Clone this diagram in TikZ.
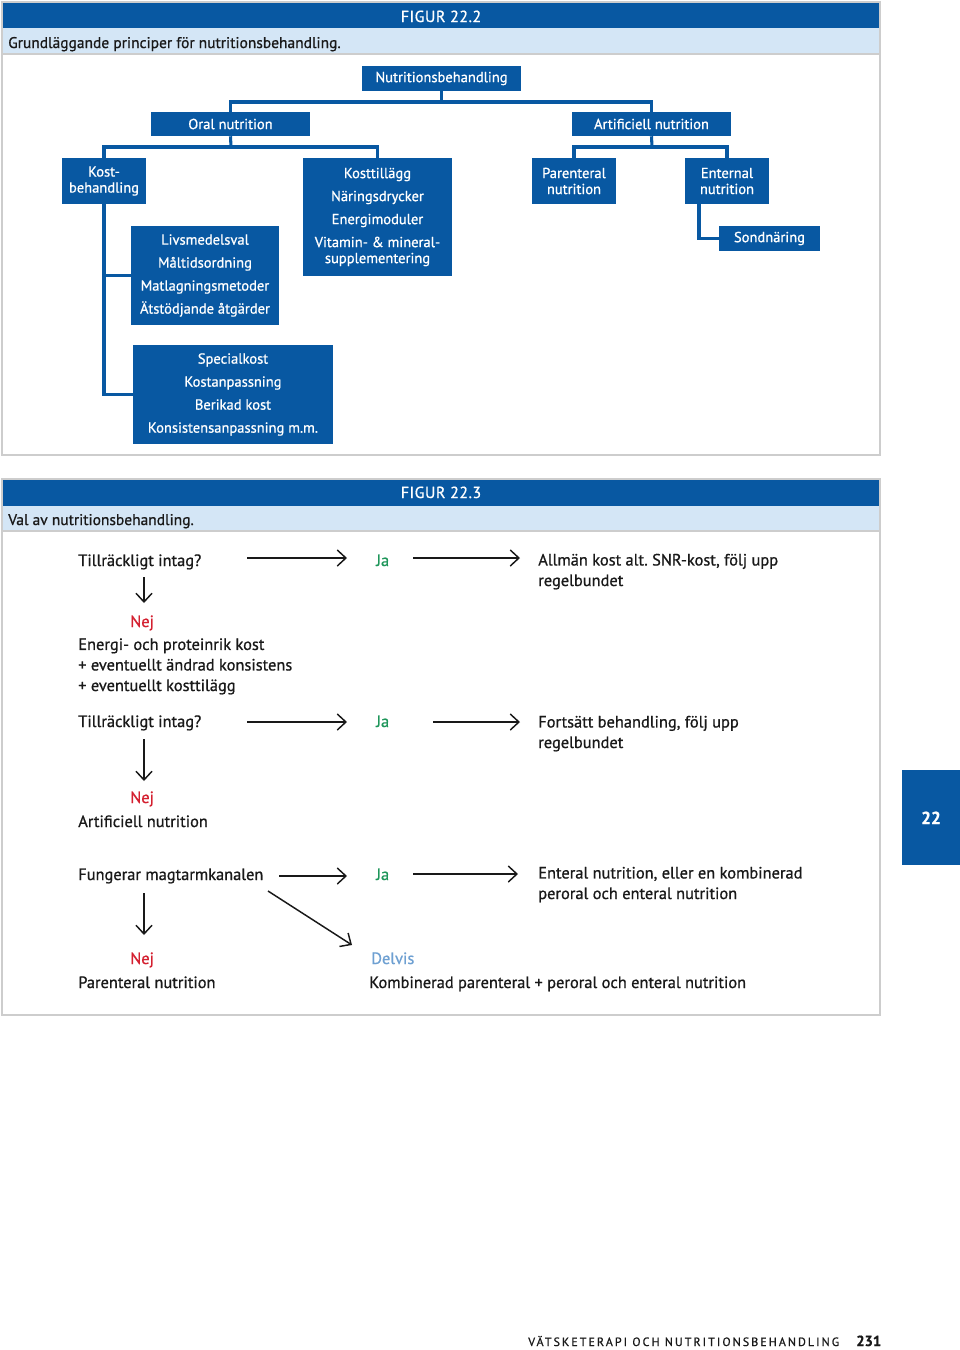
\documentclass[tikz,border=0pt]{standalone}
\usepackage{fontspec}
\setmainfont{PT Sans}[FakeBold=0.8]
\usetikzlibrary{arrows.meta}
\definecolor{fblue}{RGB}{8,88,162}
\definecolor{lblue}{RGB}{212,230,246}
\definecolor{gline}{RGB}{205,205,205}
\definecolor{ink}{RGB}{25,25,25}
\definecolor{jagreen}{RGB}{30,150,90}
\definecolor{nejred}{RGB}{212,32,48}
\definecolor{delvis}{RGB}{110,160,210}
\frenchspacing
\newcommand\tbox[6]{\node[bbox, minimum width={(#4-#2)*0.75pt}, minimum height={(#5-#3)*0.75pt}] (#1) at ({(#2+#4)/2},{(#3+#5)/2}) {#6};}
\begin{document}
\begin{tikzpicture}[x=0.75pt,y=-0.75pt,
  bbox/.style={fill=fblue, text=white, inner sep=0pt, align=center, font=\fontsize{10.9}{12}\selectfont},
  tree/.style={draw=fblue, line width=2.3pt},
  flow/.style={draw=ink, line width=1.1pt, -{Straight Barb[length=6.5pt,width=12pt,line width=1.1pt]}},
  txt/.style={anchor=base west, inner sep=0pt, text=ink, align=left, font=\fontsize{12.3}{15.4}\selectfont},
  ja/.style={txt, text=jagreen},
  nej/.style={txt, text=nejred},
  hdr/.style={anchor=base, inner sep=0pt, text=white, font=\fontsize{12}{13}\selectfont\addfontfeature{LetterSpace=3}},
  captxt/.style={anchor=base west, inner sep=0pt, text=ink, font=\fontsize{11.6}{13}\selectfont},
]
\useasboundingbox (0,0) rectangle (960,1350);
\fill[white] (0,0) rectangle (960,1350);

% ---------- Figure 22.2 panel ----------
\fill[fblue] (2,2) rectangle (880,28);
\fill[lblue] (2,28) rectangle (880,54);
\draw[gline, line width=0.8pt] (2,54) -- (880,54);
\draw[gline, line width=0.8pt] (2,2) rectangle (880,455);
\node[hdr] (fig2) at (441,22) {FIGUR 22.2};
\node[captxt] (cap2) at (8,48) {Grundläggande principer för nutritionsbehandling.};

\tbox{nb}{362}{66}{521}{91}{Nutritionsbehandling}
\tbox{oral}{151}{112}{310}{136}{Oral nutrition}
\tbox{art}{572}{112}{731}{136}{Artificiell nutrition}
\tbox{kost}{62}{158}{146}{204}{Kost-\\behandling}
\tbox{till}{303}{158}{452}{276}{Kosttillägg\\[5.25pt]Näringsdrycker\\[5.25pt]Energimoduler\\[5.25pt]Vitamin- \& mineral-\\supplementering}
\tbox{livs}{131}{226}{279}{325}{Livsmedelsval\\[5.25pt]Måltidsordning\\[5.25pt]Matlagningsmetoder\\[5.25pt]Ätstödjande åtgärder}
\tbox{spec}{133}{345}{333}{444}{Specialkost\\[5.25pt]Kostanpassning\\[5.25pt]Berikad kost\\[5.25pt]Konsistensanpassning m.m.}
\tbox{par}{532}{158}{616}{204}{Parenteral\\nutrition}
\tbox{ent}{685}{158}{769}{204}{Enternal\\nutrition}
\tbox{sond}{719}{226}{820}{251}{Sondnäring}

\coordinate (j1) at (441,102);
\coordinate (j2) at (231,147);
\coordinate (j3) at (652,147);
\draw[tree] (nb.south) -- (nb.south |- j1);
\draw[tree] (oral.north) |- (j1) -| (art.north);
\draw[tree] (oral.south) -- (j2);
\draw[tree] (kost.north) |- (j2) -| (till.north);
\draw[tree] (art.south) -- (j3);
\draw[tree] (par.north) |- (j3) -| (ent.north);
\draw[tree] (kost.south) |- (spec.west);
\draw[tree] (kost.south |- livs.west) -- (livs.west);
\coordinate (e1) at (699,204);
\draw[tree] (e1) |- (sond.west);

% ---------- Figure 22.3 panel ----------
\fill[fblue] (2,479) rectangle (880,506);
\fill[lblue] (2,506) rectangle (880,531);
\draw[gline, line width=0.8pt] (2,531) -- (880,531);
\draw[gline, line width=0.8pt] (2,479) rectangle (880,1015);
\node[hdr] (fig3) at (441,498) {FIGUR 22.3};
\node[captxt] (cap3) at (8,525) {Val av nutritionsbehandling.};

% row 1
\node[txt] (q1) at (78,566) {Tillräckligt intag?};
\node[ja] (ja1) at (376,566) {Ja};
\node[txt] (r1) at (538,586) {Allmän kost alt. SNR-kost, följ upp\\regelbundet};
\node[nej] (nej1) at (130,627) {Nej};
\node[txt] (a1) at (78,691) {Energi- och proteinrik kost\\+ eventuellt ändrad konsistens\\+ eventuellt kosttilägg};
\coordinate (h1a) at (247,558); \coordinate (h1b) at (347,558);
\coordinate (h2a) at (413,558); \coordinate (h2b) at (520,558);
\coordinate (v1a) at (144,577); \coordinate (v1b) at (144,603);
\draw[flow] (h1a) -- (h1b);
\draw[flow] (h2a) -- (h2b);
\draw[flow] (v1a) -- (v1b);

% row 2
\node[txt] (q2) at (78,727) {Tillräckligt intag?};
\node[ja] (ja2) at (376,727) {Ja};
\node[txt] (r2) at (538,748) {Fortsätt behandling, följ upp\\regelbundet};
\node[nej] (nej2) at (130,803) {Nej};
\node[txt] (a2) at (78,827) {Artificiell nutrition};
\coordinate (h3a) at (247,722); \coordinate (h3b) at (347,722);
\coordinate (h4a) at (433,722); \coordinate (h4b) at (520,722);
\coordinate (v2a) at (144,739); \coordinate (v2b) at (144,781);
\draw[flow] (h3a) -- (h3b);
\draw[flow] (h4a) -- (h4b);
\draw[flow] (v2a) -- (v2b);

% row 3
\node[txt] (q3) at (78,880) {Fungerar magtarmkanalen};
\node[ja] (ja3) at (376,880) {Ja};
\node[txt] (r3) at (538,899) {Enteral nutrition, eller en kombinerad\\peroral och enteral nutrition};
\node[nej] (nej3) at (130,964) {Nej};
\node[txt, text=delvis] (del) at (371,964) {Delvis};
\node[txt] (a3) at (78,988) {Parenteral nutrition};
\node[txt] (k3) at (369,988) {Kombinerad parenteral + peroral och enteral nutrition};
\coordinate (h5a) at (279,876); \coordinate (h5b) at (347,876);
\coordinate (h6a) at (413,874); \coordinate (h6b) at (518,874);
\coordinate (v3a) at (144,893); \coordinate (v3b) at (144,935);
\coordinate (g1) at (268,891); \coordinate (g2) at (352,945);
\draw[flow] (h5a) -- (h5b);
\draw[flow] (h6a) -- (h6b);
\draw[flow] (v3a) -- (v3b);
\draw[flow] (g1) -- (g2);

% side tab
\fill[fblue] (902,770) rectangle (960,865);
\node[hdr, font=\fontsize{13}{14}\selectfont\bfseries] (tab) at (931,824) {22};

% footer
\node[anchor=base west, inner sep=0pt, text=ink, font=\fontsize{9}{10}\selectfont\addfontfeature{LetterSpace=17}] (foot) at (528,1346) {VÄTSKETERAPI OCH NUTRITIONSBEHANDLING};
\node[anchor=base west, inner sep=0pt, text=ink, font=\fontsize{11}{12}\selectfont\bfseries] (pg) at (856,1346) {231};
\end{tikzpicture}
\end{document}
